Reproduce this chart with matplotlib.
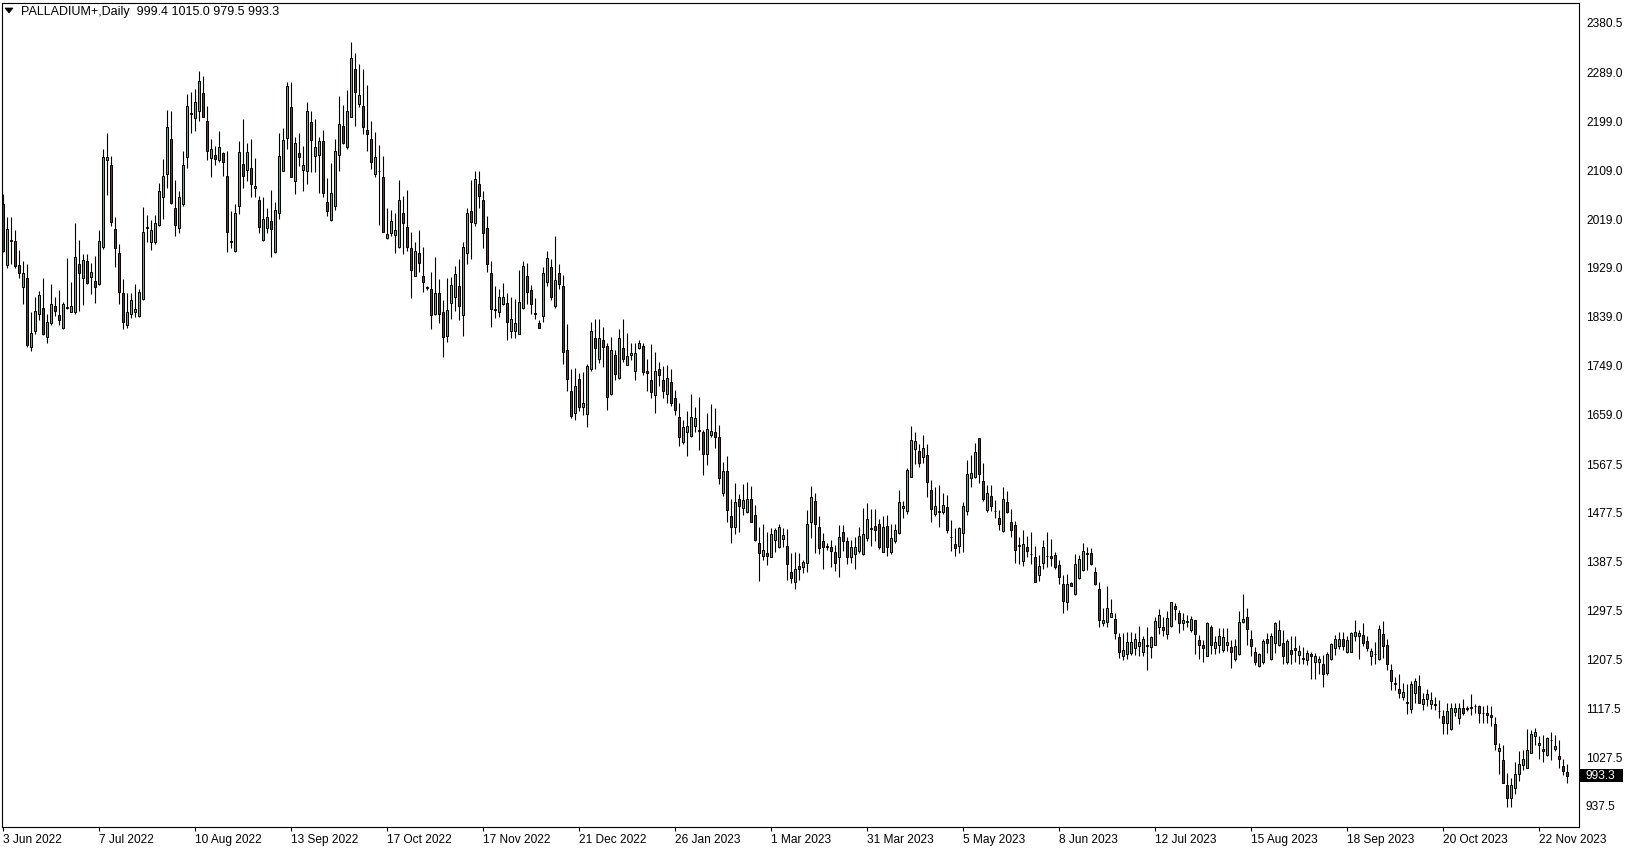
import matplotlib
matplotlib.use('Agg')
import matplotlib.pyplot as plt
from matplotlib.patches import Rectangle, Polygon

title = "PALLADIUM+,Daily"
last_ohlc = "999.4 1015.0 979.5 993.3"
last_price = 993.3

opens = [
 2046,1934,1980,1978,1934,1893,1910,1784,1813,1845,1855,1801,1828,1859,1843,1818,1857,1848,1847,1936,
 1910,1942,1913,1905,1899,1967,2127,2118,2000,1956,1882,1824,1844,1848,1840,1871,2003,1976,1976,2009,
 2060,2103,2166,2039,2002,2046,2133,2214,2205,2218,2251,2199,2131,2138,2127,2140,2098,1978,1960,2043,
 2120,2110,2114,2076,2054,1980,2003,2015,1958,2031,2108,2169,2225,2090,2140,2110,2107,2197,2136,2138,
 2162,2050,2017,2044,2138,2191,2151,2208,2296,2232,2227,2183,2167,2103,2108,2096,1984,1993,1989,1967,
 2030,2004,1965,1915,1956,1915,1893,1891,1845,1882,1848,1804,1864,1875,1895,1842,1956,2033,2011,2083,
 2055,2002,1919,1854,1847,1863,1864,1812,1812,1807,1856,1915,1888,1846,1828,1840,1904,1930,1859,1919,
 1896,1777,1702,1661,1725,1673,1659,1742,1799,1762,1796,1785,1696,1768,1726,1781,1751,1768,1740,1781,
 1786,1739,1722,1694,1742,1723,1696,1718,1689,1654,1609,1626,1620,1638,1630,1626,1587,1621,1626,1617,
 1514,1554,1471,1451,1503,1486,1480,1504,1473,1423,1399,1403,1397,1427,1414,1429,1417,1369,1351,1380,
 1377,1386,1460,1500,1451,1426,1416,1414,1406,1397,1442,1425,1397,1401,1408,1401,1431,1449,1453,1457,
 1406,1453,1405,1426,1441,1487,1482,1544,1595,1592,1581,1584,1520,1475,1481,1480,1488,1434,1420,1417,
 1441,1481,1541,1543,1615,1537,1483,1508,1482,1469,1444,1497,1460,1455,1418,1389,1414,1402,1397,1363,
 1385,1399,1398,1400,1382,1347,1313,1348,1329,1357,1372,1403,1403,1368,1337,1274,1277,1286,1282,1248,
 1214,1218,1220,1229,1233,1222,1234,1230,1235,1267,1267,1254,1270,1306,1293,1275,1277,1262,1280,1243,
 1234,1214,1267,1228,1234,1225,1235,1230,1208,1217,1276,1285,1245,1222,1196,1203,1245,1208,1237,1235,
 1237,1202,1225,1228,1216,1210,1206,1218,1202,1203,1199,1183,1208,1228,1233,1246,1221,1222,1250,1250,
 1253,1241,1214,1218,1208,1254,1234,1189,1164,1154,1138,1129,1116,1145,1159,1125,1135,1125,1125,1113,
 1103,1091,1079,1110,1099,1119,1118,1120,1122,1122,1109,1108,1105,1088,1039,1022,977,952,970,996,
 1013,1007,1036,1066,1049,1042,1031,1060,1042,1030,1011,999.4,
]

highs = [
 2065,2022,2022,1999,1962,1941,1937,1848,1875,1887,1910,1845,1899,1876,1888,1867,1947,1904,2011,1980,
 1955,1955,1939,1951,1999,2148,2177,2135,2022,1973,1908,1882,1883,1899,1890,2041,2026,2017,2027,2086,
 2129,2220,2219,2091,2070,2145,2250,2254,2259,2292,2283,2227,2167,2153,2181,2143,2145,2034,2047,2163,
 2204,2160,2167,2132,2062,2059,2039,2073,2051,2177,2186,2272,2271,2171,2178,2153,2234,2219,2203,2171,
 2183,2094,2122,2167,2246,2229,2256,2345,2325,2305,2296,2266,2200,2179,2156,2135,2039,2036,2030,2091,
 2062,2073,1996,1977,1999,1967,1896,1922,1949,1908,1870,1910,1912,1933,1945,1977,2039,2091,2108,2108,
 2071,2025,1942,1896,1891,1902,1882,1876,1872,1925,1941,1939,1898,1873,1833,1930,1960,1945,1988,1936,
 1916,1825,1742,1744,1735,1737,1752,1830,1834,1834,1821,1790,1802,1778,1816,1834,1809,1790,1790,1796,
 1790,1762,1788,1774,1755,1748,1750,1742,1704,1680,1648,1665,1696,1673,1691,1630,1661,1678,1670,1640,
 1572,1582,1504,1532,1512,1531,1534,1527,1492,1451,1458,1442,1449,1450,1458,1449,1448,1403,1405,1403,
 1391,1483,1527,1514,1471,1440,1423,1428,1418,1456,1455,1434,1428,1434,1451,1486,1495,1484,1484,1466,
 1471,1474,1457,1457,1519,1500,1560,1637,1626,1605,1621,1605,1539,1525,1529,1515,1510,1464,1449,1452,
 1498,1575,1584,1606,1615,1569,1529,1529,1501,1483,1525,1518,1484,1463,1433,1446,1435,1443,1417,1400,
 1428,1442,1430,1406,1391,1363,1365,1351,1402,1400,1423,1414,1412,1377,1350,1302,1342,1319,1294,1257,
 1256,1259,1259,1257,1269,1251,1268,1251,1286,1301,1285,1297,1314,1312,1299,1293,1290,1288,1281,1253,
 1243,1277,1271,1251,1265,1265,1265,1243,1246,1296,1328,1302,1262,1231,1220,1245,1256,1256,1277,1280,
 1262,1245,1251,1251,1234,1231,1225,1222,1220,1213,1216,1222,1237,1253,1259,1259,1250,1259,1281,1262,
 1274,1250,1229,1240,1271,1279,1245,1200,1175,1181,1164,1162,1167,1173,1179,1146,1154,1148,1139,1133,
 1114,1128,1128,1128,1128,1134,1121,1144,1125,1124,1122,1124,1122,1102,1053,1050,998,990,1019,1038,
 1041,1079,1078,1082,1066,1068,1065,1074,1068,1060,1025,1015.0,
]

lows = [
 1959,1928,1937,1928,1910,1862,1784,1776,1808,1833,1805,1791,1824,1840,1824,1817,1853,1847,1845,1850,
 1861,1900,1881,1865,1897,1964,2063,2006,1930,1862,1817,1818,1836,1839,1838,1870,1976,1962,1974,2006,
 2019,2076,2047,1987,1993,2044,2113,2177,2182,2200,2208,2127,2097,2119,2124,2099,1958,1966,1958,2028,
 2076,2090,2059,2059,1994,1979,1993,1950,1957,2019,2108,2148,2096,2065,2117,2070,2084,2105,2105,2068,
 2059,2025,2016,2035,2108,2157,2148,2207,2191,2226,2175,2145,2112,2096,2009,1995,1982,1987,1956,1966,
 1955,1961,1874,1914,1922,1885,1888,1816,1842,1827,1764,1793,1834,1850,1833,1804,1937,1945,2007,2039,
 1965,1922,1821,1836,1839,1861,1797,1799,1799,1807,1853,1863,1845,1835,1818,1830,1896,1870,1856,1890,
 1752,1703,1652,1649,1666,1658,1635,1740,1743,1753,1747,1667,1695,1723,1724,1755,1750,1759,1723,1779,
 1732,1703,1690,1662,1712,1689,1681,1675,1658,1600,1605,1582,1618,1627,1594,1547,1565,1618,1598,1531,
 1509,1460,1423,1439,1443,1474,1477,1460,1426,1353,1391,1382,1397,1406,1412,1415,1354,1349,1337,1354,
 1366,1369,1432,1403,1402,1375,1409,1377,1371,1359,1408,1383,1385,1374,1404,1400,1425,1417,1426,1411,
 1405,1398,1402,1423,1439,1468,1476,1543,1568,1563,1569,1506,1460,1471,1452,1476,1440,1408,1398,1403,
 1406,1474,1525,1541,1532,1500,1480,1482,1468,1446,1443,1477,1434,1386,1383,1380,1396,1383,1351,1353,
 1375,1377,1380,1375,1346,1294,1299,1342,1326,1355,1371,1372,1382,1345,1267,1269,1268,1285,1245,1210,
 1207,1208,1216,1216,1214,1214,1188,1211,1234,1254,1250,1245,1268,1281,1257,1262,1268,1259,1218,1208,
 1203,1213,1218,1217,1219,1222,1224,1191,1205,1216,1274,1234,1214,1197,1193,1200,1219,1207,1219,1232,
 1200,1199,1200,1202,1200,1200,1197,1171,1172,1181,1157,1179,1206,1216,1226,1225,1219,1221,1242,1208,
 1233,1224,1197,1200,1206,1210,1188,1152,1152,1136,1133,1107,1108,1127,1127,1114,1122,1117,1114,1099,
 1071,1070,1078,1103,1088,1105,1113,1105,1109,1091,1090,1091,1084,1041,997,979,936,936,960,984,
 1004,1007,1036,1050,1025,1019,1030,1022,1038,1007,995,979.5,
]

closes = [
 1961,2000,1978,1933,1919,1919,1787,1810,1850,1879,1808,1829,1862,1850,1833,1862,1855,1859,1949,1920,
 1944,1902,1922,1893,1978,2133,2133,2014,1966,1885,1830,1847,1869,1854,1884,1996,2004,1998,2011,2070,
 2098,2188,2048,2008,2059,2118,2227,2213,2234,2273,2208,2144,2149,2130,2151,2124,1996,1977,2030,2143,
 2099,2142,2083,2080,2005,2020,2023,2000,2035,2135,2165,2264,2097,2159,2133,2118,2218,2165,2151,2162,
 2067,2033,2068,2144,2194,2160,2218,2315,2253,2247,2188,2175,2125,2133,2107,1996,1991,2015,1998,2055,
 2011,1967,1925,1960,1939,1904,1892,1843,1882,1844,1802,1851,1897,1917,1858,1967,2030,2014,2092,2062,
 1993,1936,1853,1852,1875,1876,1829,1834,1827,1866,1932,1884,1863,1845,1819,1919,1947,1875,1906,1899,
 1775,1724,1657,1711,1673,1681,1748,1813,1781,1799,1783,1692,1777,1733,1799,1762,1767,1772,1773,1790,
 1737,1735,1701,1739,1731,1703,1727,1681,1668,1617,1635,1638,1654,1652,1629,1586,1633,1628,1617,1541,
 1554,1483,1452,1497,1491,1501,1503,1461,1428,1403,1409,1399,1439,1446,1451,1436,1383,1358,1374,1375,
 1387,1458,1506,1458,1412,1414,1415,1408,1386,1434,1425,1397,1414,1415,1435,1438,1466,1448,1446,1414,
 1451,1414,1431,1446,1497,1490,1557,1612,1610,1569,1598,1534,1484,1490,1480,1492,1447,1433,1413,1449,
 1490,1549,1552,1589,1550,1504,1515,1490,1481,1458,1503,1480,1447,1410,1417,1421,1407,1401,1351,1380,
 1414,1398,1394,1378,1359,1316,1346,1343,1383,1392,1408,1401,1383,1346,1281,1280,1302,1294,1257,1222,
 1225,1239,1239,1245,1240,1245,1233,1248,1278,1289,1261,1284,1313,1301,1274,1281,1277,1283,1254,1234,
 1229,1274,1234,1239,1251,1248,1240,1222,1232,1277,1283,1263,1232,1203,1217,1242,1237,1251,1274,1262,
 1213,1241,1218,1225,1223,1209,1219,1213,1214,1208,1181,1217,1236,1245,1245,1233,1243,1256,1259,1257,
 1238,1228,1223,1217,1263,1233,1200,1168,1163,1145,1147,1128,1163,1168,1128,1135,1143,1133,1124,1112,
 1090,1113,1119,1119,1119,1108,1117,1119,1121,1108,1108,1105,1102,1051,1044,980,953,977,996,1014,
 1025,1041,1071,1073,1053,1039,1062,1059,1048,1025,1002,993.3,
]

date_labels = ["3 Jun 2022", "7 Jul 2022", "10 Aug 2022", "13 Sep 2022", "17 Oct 2022",
               "17 Nov 2022", "21 Dec 2022", "26 Jan 2023", "1 Mar 2023", "31 Mar 2023",
               "5 May 2023", "8 Jun 2023", "12 Jul 2023", "15 Aug 2023", "18 Sep 2023",
               "20 Oct 2023", "22 Nov 2023"]
price_labels = ["937.5", "1027.5", "1117.5", "1207.5", "1297.5", "1387.5", "1477.5",
                "1567.5", "1659.0", "1749.0", "1839.0", "1929.0", "2019.0", "2109.0",
                "2199.0", "2289.0", "2380.5"]

if len({len(opens), len(highs), len(lows), len(closes)}) != 1:
    raise ValueError(f"length mismatch {len(opens)} {len(highs)} {len(lows)} {len(closes)}")

plt.rcParams['font.family'] = ['Liberation Sans', 'DejaVu Sans']

W, H = 1629, 850
fig = plt.figure(figsize=(W / 100, H / 100), dpi=100)
fig.patch.set_facecolor('white')
L_px, R_px, T_px, B_px = 2, 1579, 3, 827
ax = fig.add_axes([L_px / W, (H - B_px) / H, (R_px - L_px) / W, (B_px - T_px) / H])

n = len(closes)
xs = list(range(n))
ax.vlines(xs, lows, highs, colors='black', linewidth=0.8, zorder=1)
bottoms = [min(o, c) for o, c in zip(opens, closes)]
heights = [max(abs(c - o), 0.8) for o, c in zip(opens, closes)]
cols = ['#00F000' if c >= o else '#E80000' for o, c in zip(opens, closes)]
ax.bar(xs, heights, bottom=bottoms, width=0.55, color=cols, edgecolor='black',
       linewidth=0.7, zorder=2)

ax.set_xlim(-0.25, 394.0)
ax.set_ylim(898.8, 2417.2)

for s in ax.spines.values():
    s.set_color('black')
    s.set_linewidth(0.8)

ax.set_xticks([24 * k for k in range(len(date_labels))])
ax.set_xticklabels(date_labels, ha='left')
ax.tick_params(axis='x', length=3, width=0.8, pad=2, labelsize=8.6, direction='out', colors='black')

ax.yaxis.tick_right()
ax.set_yticks([float(v) for v in price_labels])
ax.set_yticklabels(price_labels)
ax.tick_params(axis='y', length=0, pad=5, labelsize=8.6, colors='black')

# last price box
fig.canvas.draw()
ypix = ax.transData.transform((0, last_price))[1]
fig.patches.append(Rectangle((1580 / W, (ypix - 6.5) / H), 43 / W, 13 / H,
                             transform=fig.transFigure, facecolor='black',
                             edgecolor='none', zorder=5))
fig.text(1586 / W, ypix / H, f"{last_price:.1f}", color='white', fontsize=8.6,
         ha='left', va='center', zorder=6)

# header
fig.patches.append(Polygon([(5 / W, 1 - 8 / H), (13 / W, 1 - 8 / H), (9 / W, 1 - 13 / H)],
                           closed=True, transform=fig.transFigure, facecolor='black',
                           edgecolor='black', linewidth=0.5, zorder=5))
fig.text(21 / W, 1 - 12 / H, f"{title}  {last_ohlc}", color='black', fontsize=9,
         ha='left', va='center', zorder=6)

fig.savefig('out.png', dpi=100, facecolor='white')
